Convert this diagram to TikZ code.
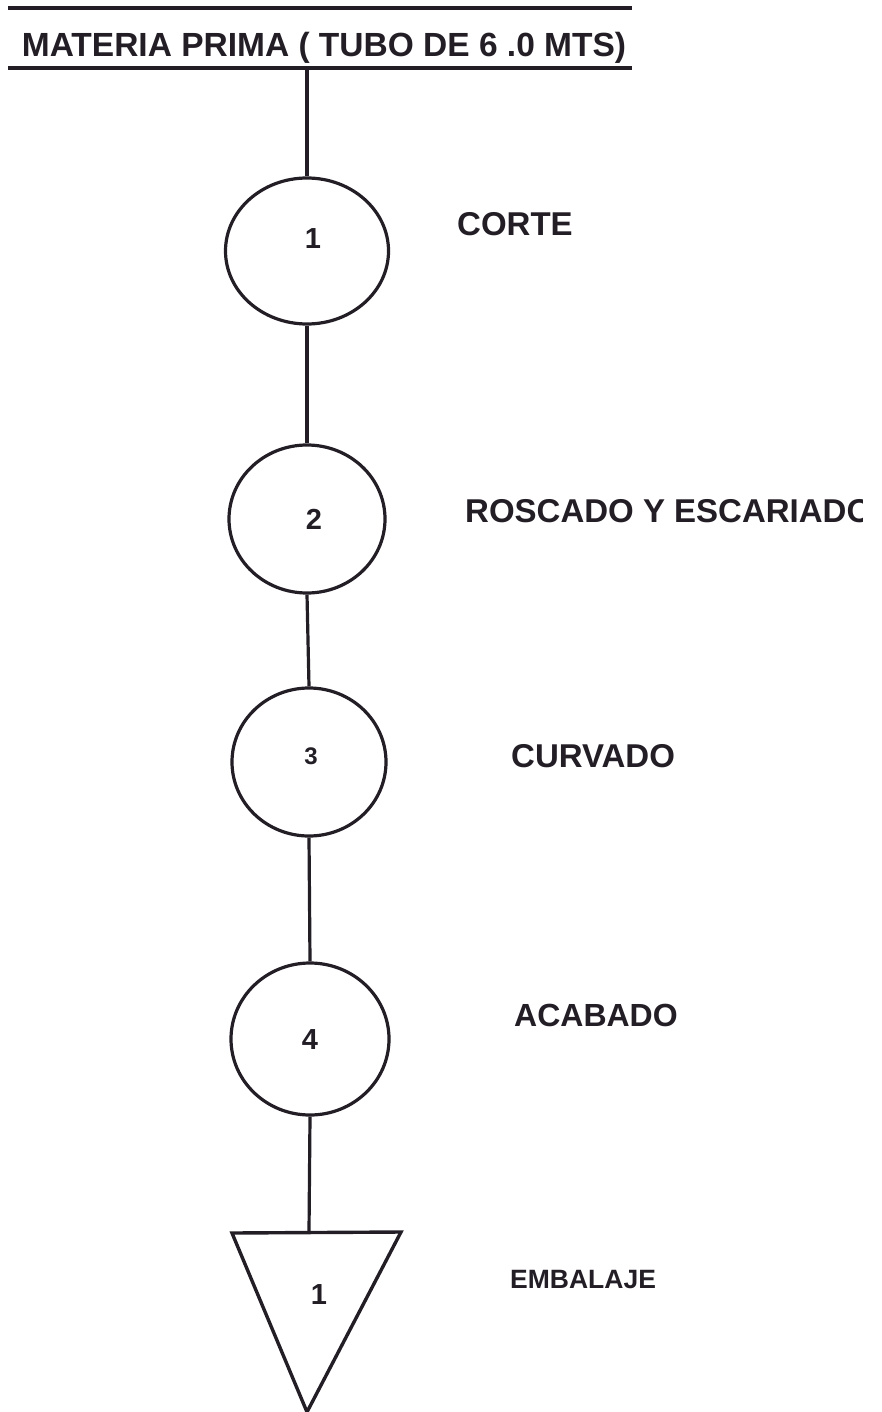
\documentclass[tikz,border=0pt]{standalone}
\usepackage{fontspec}
\setmainfont{Liberation Sans}
\usetikzlibrary{shapes.geometric}
\definecolor{ink}{RGB}{35,30,38}
\tikzset{
  opcircle/.style={draw=ink, ellipse, line width=3.2pt, inner sep=0pt, fill=none},
  link/.style={draw=ink, line width=3.2pt},
  rule/.style={draw=ink, line width=4pt},
  lbl/.style={anchor=base west, inner sep=0pt, text=ink, font=\bfseries\fontsize{33}{38}\selectfont},
  num/.style={text=ink, inner sep=0pt, font=\bfseries\fontsize{29}{32}\selectfont}
}
\begin{document}
\begin{tikzpicture}[x=1pt,y=-1pt]
\useasboundingbox (0,0) rectangle (881,1412);
% title rules
\coordinate (r1a) at (8,8);  \coordinate (r1b) at (632,8);
\coordinate (r2a) at (8,68); \coordinate (r2b) at (632,68);
\draw[rule] (r1a) -- (r1b);
\draw[rule] (r2a) -- (r2b);
\node[anchor=base, inner sep=0pt, text=ink, font=\bfseries\fontsize{33.5}{38}\selectfont] (title) at (324,57) {MATERIA PRIMA ( TUBO DE 6 .0 MTS)};
% operations
\node[opcircle, minimum width=163pt, minimum height=146pt] (c1) at (307,251) {};
\node[opcircle, minimum width=156pt, minimum height=148pt] (c2) at (307,519) {};
\node[opcircle, minimum width=154pt, minimum height=148pt] (c3) at (309,762) {};
\node[opcircle, minimum width=158pt, minimum height=152pt] (c4) at (310,1039) {};
\coordinate (start) at (c1.north |- r2a);
\node[num] (n1) at (313,239) {1};
\node[num] (n2) at (314,519) {2};
\node[num, font=\bfseries\fontsize{24}{27}\selectfont] (n3) at (311,756) {3};
\node[num] (n4) at (310,1040) {4};
% storage triangle
\coordinate (tl) at (232,1233);
\coordinate (tr) at (401,1232);
\coordinate (tb) at (307,1412);
\coordinate (ttop) at (309,1232);
\draw[draw=ink, line width=3.4pt, line join=miter] (tl) -- (tr) -- (tb) -- cycle;
\node[num] (n5) at (319,1295) {1};
% connectors
\draw[link] (start) -- (c1.north);
\draw[link] (c1.south) -- (c2.north);
\draw[link] (c2.south) -- (c3.north);
\draw[link] (c3.south) -- (c4.north);
\draw[link] (c4.south) -- (ttop);
% labels
\node[lbl] (l1) at (457,236) {CORTE};
\begin{scope}
\clip (0,0) rectangle (862,1412);
\node[lbl] (l2) at (465,522) {ROSCADO Y ESCARIADO};
\end{scope}
\node[lbl] (l3) at (511,767) {CURVADO};
\node[lbl, font=\bfseries\fontsize{32}{36}\selectfont] (l4) at (514,1026) {ACABADO};
\node[lbl, font=\bfseries\fontsize{26.5}{30}\selectfont] (l5) at (510,1288) {EMBALAJE};
\end{tikzpicture}
\end{document}
